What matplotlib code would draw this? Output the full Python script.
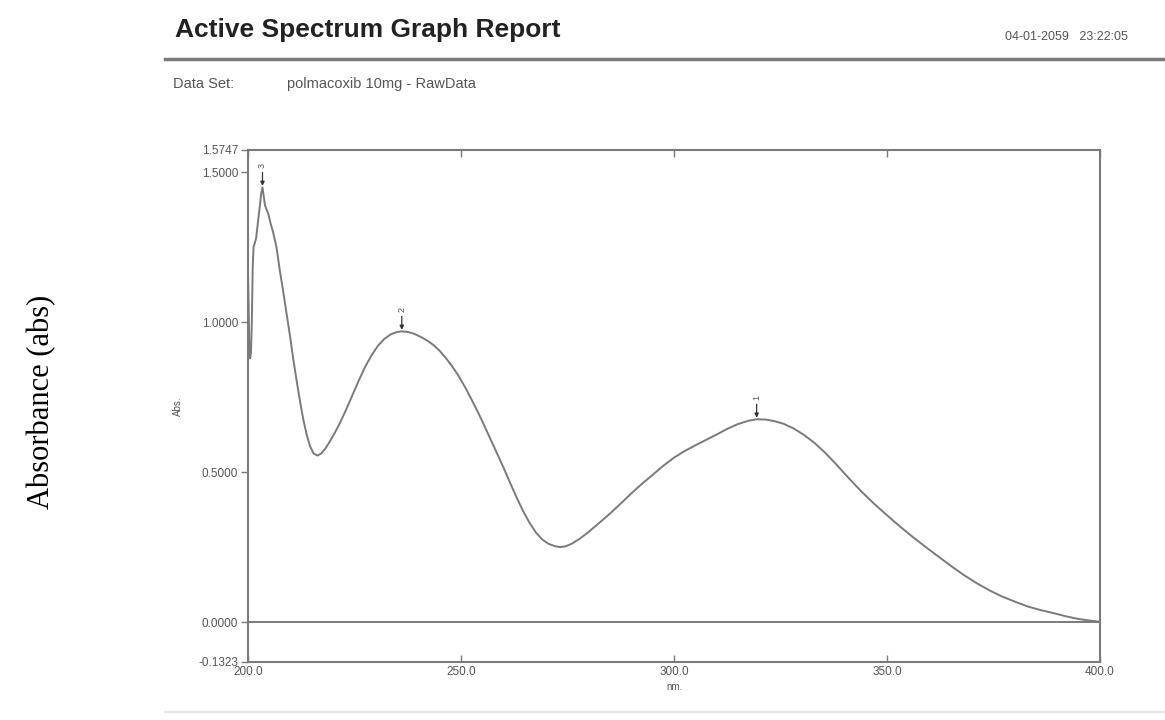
import numpy as np
import matplotlib.pyplot as plt

# spectrum (nm, abs)
wavelength = [200.0, 200.15, 200.3, 200.5, 200.7, 200.9, 201.1, 201.3, 201.6, 201.9,
              202.3, 202.8, 203.1, 203.4, 203.7, 204.0, 204.4, 204.8, 205.3, 205.9,
              206.7, 207.5, 208.3, 209.1, 209.9, 210.6, 211.4, 212.2, 213.0, 213.8,
              214.6, 215.4, 216.3, 217.2, 218.2, 219.3, 220.5, 221.6, 223.0, 224.5,
              226.0, 227.5, 229.0, 230.5, 232.0, 233.5, 235.0, 236.1, 237.5, 239.0,
              240.5, 242.0, 243.5, 245.0, 246.5, 248.0, 249.5, 251.0, 252.5, 254.0,
              255.5, 257.0, 258.5, 260.0, 261.5, 263.0, 264.5, 266.0, 267.5, 269.0,
              270.5, 272.0, 273.2, 274.5, 276.0, 278.0, 280.0, 282.5, 285.0, 287.5,
              290.0, 292.5, 295.0, 297.5, 300.0, 302.5, 305.0, 307.5, 310.0, 312.5,
              315.0, 317.5, 319.4, 321.5, 323.5, 325.7, 328.0, 330.5, 333.0, 335.5,
              338.0, 341.0, 344.0, 347.0, 350.0, 353.0, 356.0, 359.0, 362.0, 365.0,
              368.0, 371.0, 374.0, 377.0, 380.0, 383.0, 386.0, 389.0, 392.0, 395.0,
              398.0, 400.0]
absorbance = [1.17, 1.05, 0.93, 0.88, 0.90, 1.00, 1.18, 1.25, 1.265, 1.28,
              1.33, 1.39, 1.43, 1.45, 1.42, 1.39, 1.375, 1.36, 1.33, 1.30,
              1.25, 1.17, 1.10, 1.025, 0.951, 0.88, 0.807, 0.738, 0.675, 0.624,
              0.586, 0.563, 0.556, 0.563, 0.580, 0.605, 0.635, 0.665, 0.708, 0.757,
              0.806, 0.852, 0.890, 0.922, 0.945, 0.960, 0.968, 0.970, 0.968, 0.962,
              0.952, 0.940, 0.925, 0.905, 0.880, 0.852, 0.820, 0.783, 0.742, 0.700,
              0.655, 0.608, 0.562, 0.515, 0.466, 0.418, 0.373, 0.334, 0.301, 0.277,
              0.262, 0.254, 0.251, 0.253, 0.262, 0.280, 0.302, 0.332, 0.363, 0.396,
              0.430, 0.462, 0.492, 0.522, 0.549, 0.571, 0.590, 0.608, 0.626, 0.645,
              0.661, 0.672, 0.677, 0.676, 0.671, 0.662, 0.647, 0.625, 0.598, 0.565,
              0.528, 0.481, 0.436, 0.395, 0.357, 0.320, 0.285, 0.252, 0.220, 0.188,
              0.158, 0.131, 0.107, 0.086, 0.069, 0.053, 0.041, 0.031, 0.020, 0.011,
              0.005, 0.002]

peak_labels = ['3', '2', '1']
peak_nm = [203.4, 236.1, 319.4]
peak_abs = [1.45, 0.970, 0.677]

x_ticks = [200.0, 250.0, 300.0, 350.0, 400.0]
y_ticks = [-0.1323, 0.0, 0.5, 1.0, 1.5, 1.5747]

grey = '#7a7a7a'
txt = '#555555'
plt.rcParams['font.family'] = ['Liberation Sans', 'DejaVu Sans']

fig = plt.figure(figsize=(11.65, 7.2), dpi=100)
ax = fig.add_axes([248/1165, 1-662/720, 852/1165, 512/720])

ax.plot(wavelength, absorbance, color=grey, lw=1.4)
ax.axhline(0, color=grey, lw=1.4)

for lab, px, py in zip(peak_labels, peak_nm, peak_abs):
    ax.annotate('', xy=(px, py + 0.005), xytext=(px, py + 0.05),
                arrowprops=dict(arrowstyle='-|>', color='#333333', lw=0.9,
                                mutation_scale=6, shrinkA=0, shrinkB=0))
    ax.text(px, py + 0.065, lab, rotation=90, ha='center', va='bottom',
            fontsize=6.5, color=txt)

ax.set_xlim(200, 400)
ax.set_ylim(-0.1323, 1.5747)
ax.set_xticks(x_ticks)
ax.set_xticklabels([f'{v:.1f}' for v in x_ticks])
ax.set_yticks(y_ticks)
ax.set_yticklabels([f'{v:.4f}' for v in y_ticks])
ax.tick_params(axis='both', labelsize=8.5, labelcolor=txt, color=grey, width=1)
ax.tick_params(axis='x', direction='in', length=5, pad=3, top=True)
ax.tick_params(axis='y', direction='out', length=5, pad=2)
for s in ax.spines.values():
    s.set_color(grey)
    s.set_linewidth(1.5)
ax.set_xlabel('nm.', fontsize=7, color=txt, labelpad=3)
ax.set_ylabel('Abs.', fontsize=7, color=txt, labelpad=11)

# header of the report
fig.text(175/1165, 1-30/720, 'Active Spectrum Graph Report', fontsize=19,
         fontweight='bold', color='#222222', va='center', ha='left')
fig.text(1128/1165, 1-37/720, '04-01-2059   23:22:05', fontsize=9,
         color=txt, va='center', ha='right')
fig.add_artist(plt.Line2D([165/1165, 1], [1-59/720]*2, color=grey, lw=2.5))
fig.text(173/1165, 1-84/720, 'Data Set:', fontsize=10.5, color=txt, va='center')
fig.text(287/1165, 1-84/720, 'polmacoxib 10mg - RawData', fontsize=10.5,
         color=txt, va='center')
fig.add_artist(plt.Line2D([165/1165, 1], [1-712/720]*2, color='#e6e6e6', lw=1.5))

fig.text(42/1165, 1-402/720, 'Absorbance (abs)', rotation=90, fontsize=22,
         family='Liberation Serif', color='black', va='center', ha='center')

fig.savefig('out.png', dpi=100)
